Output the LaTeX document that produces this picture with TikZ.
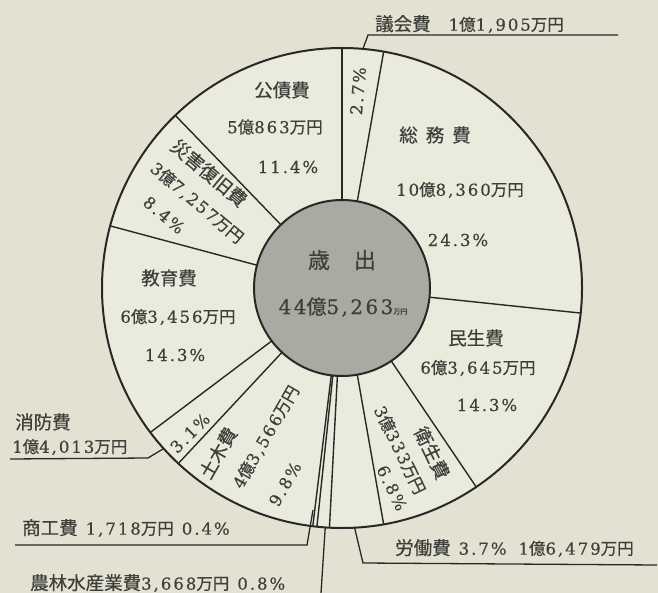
\documentclass[tikz,border=0pt]{standalone}
\usepackage{fontspec}
\newfontfamily\jp[FakeBold=0.4]{Noto Sans CJK JP}
\newfontfamily\dg[LetterSpace=12,FakeBold=0.4]{DejaVu Serif}
\newcommand\nm[1]{{\dg #1}}
\newcommand\nmk[1]{{\fontsize{18.5}{18.5}\selectfont #1}}
\definecolor{paper}{RGB}{227,226,210}
\definecolor{piefill}{RGB}{234,234,221}
\definecolor{coregray}{RGB}{170,170,163}
\definecolor{ink}{RGB}{40,40,38}
\definecolor{txt}{RGB}{62,62,58}
\begin{document}
\begin{tikzpicture}[x=1pt,y=1pt,
  lbl/.style={text=txt, font=\jp\fontsize{16.5}{16.5}\selectfont, inner sep=0pt},
  spoke/.style={draw=ink, line width=1.4pt},
  leader/.style={draw=ink, line width=1.3pt},
]
\fill[paper] (0,0) rectangle (658,-593);
\useasboundingbox (0,0) rectangle (658,-593);
\node[circle, draw=ink, fill=piefill, line width=2pt, minimum size=480pt, inner sep=0pt, outer sep=0pt] (pie) at (342,-288) {};
\node[circle, draw=ink, fill=coregray, line width=2pt, minimum size=176pt, inner sep=0pt, outer sep=0pt] (core) at (342,-288) {};
\foreach \a in {90,80.3,-6.4,-56.8,-80.5,-93,-96,-97.8,-133,-143.2,165.5,134.8}
  \draw[spoke] (core.\a) -- (pie.\a);
% leaders
\coordinate (gA) at (368,-35); \coordinate (gB) at (618,-35);
\draw[leader] (pie.85) -- (gA) -- (gB);
\coordinate (rA) at (363,-563); \coordinate (rB) at (657,-565);
\draw[leader] (pie.-87) -- (rA) -- (rB);
\coordinate (nA) at (321,-593);
\draw[leader] (pie.-94.5) -- (nA);
\coordinate (kS) at (313,-510); \coordinate (kA) at (307,-545); \coordinate (kB) at (15,-545);
\draw[leader] (kS) -- (kA) -- (kB);
\coordinate (fA) at (148,-458); \coordinate (fB) at (10,-459);
\draw[leader] (pie.-138) -- (fA) -- (fB);
% labels
\node[lbl, anchor=west] (t1) at (375,-24) {\nmk{議会費}\hspace{18pt}\nm{1}億\nm{1,905}万円};
\node[lbl, rotate=85] (p1) at (358,-91) {\nm{2.7\%}};
\node[lbl] (s1) at (435,-135) {\nmk{総\hspace{8pt}務\hspace{8pt}費}};
\node[lbl] (s2) at (460,-190) {\nm{10}億\nm{8,360}万円};
\node[lbl] (s3) at (458,-240) {\nm{24.3\%}};
\node[lbl] (m1) at (476,-338) {\nmk{民生費}};
\node[lbl] (m2) at (478,-368) {\nm{6}億\nm{3,645}万円};
\node[lbl] (m3) at (487,-405) {\nm{14.3\%}};
\node[lbl, rotate=-64] (e1) at (432,-453) {\nmk{衛生費}};
\node[lbl, rotate=-64] (e2) at (400,-450) {\nm{3}億\nm{333}万円};
\node[lbl, rotate=-64] (e3) at (392,-488) {\nm{6.8\%}};
\node[lbl, anchor=west] (r1) at (395,-548) {\nmk{労働費}\hspace{8pt}\nm{3.7\%}\hspace{12pt}\nm{1}億\nm{6,479}万円};
\node[lbl, anchor=west] (n1) at (30,-583) {\nmk{農林水産業費}\nm{3,668}万円\hspace{8pt}\nm{0.8\%}};
\node[lbl, anchor=west] (k1) at (22,-528) {\nmk{商工費}\hspace{8pt}\nm{1,718}万円\hspace{8pt}\nm{0.4\%}};
\node[lbl, rotate=60] (d1) at (218,-453) {\nmk{土木費}};
\node[lbl, rotate=60] (d2) at (266,-437) {\nm{4}億\nm{3,566}万円};
\node[lbl, rotate=60] (d3) at (285,-484) {\nm{9.8\%}};
\node[lbl, rotate=45] (f0) at (190,-433) {\nm{3.1\%}};
\node[lbl, anchor=west] (f1) at (15,-422) {\nmk{消防費}};
\node[lbl, anchor=west] (f2) at (12,-447) {\nm{1}億\nm{4,013}万円};
\node[lbl] (c1) at (169,-278) {\nmk{教育費}};
\node[lbl] (c2) at (178,-317) {\nm{6}億\nm{3,456}万円};
\node[lbl] (c3) at (175,-355) {\nm{14.3\%}};
\node[lbl, rotate=-40] (h1) at (209,-173) {\nmk{災害復旧費}};
\node[lbl, rotate=-40] (h2) at (197,-203) {\nm{3}億\nm{7,257}万円};
\node[lbl, rotate=-40] (h3) at (164,-215) {\nm{8.4\%}};
\node[lbl] (b1) at (282,-90) {\nmk{公債費}};
\node[lbl] (b2) at (275,-127) {\nm{5}億\nm{863}万円};
\node[lbl] (b3) at (288,-167) {\nm{11.4\%}};
\node[lbl, font=\jp\fontsize{22}{22}\selectfont] (o1) at (342,-260) {歳\hspace{24pt}出};
\node[lbl, font=\jp\fontsize{20}{20}\selectfont] (o2) at (343,-307) {\nm{44}億\nm{5,263}{\fontsize{7}{7}\selectfont 万円}};
\end{tikzpicture}
\end{document}
